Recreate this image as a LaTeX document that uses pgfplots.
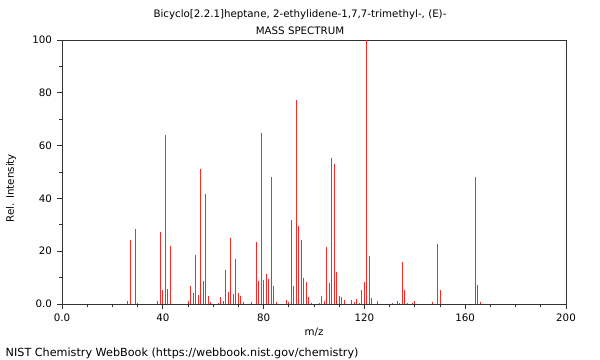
\documentclass[border=0pt]{standalone}
\usepackage{fontspec}
\setmainfont{DejaVu Sans}
\usepackage{pgfplots}
\pgfplotsset{compat=1.18}
\begin{document}
\begin{tikzpicture}
\path[use as bounding box] (0pt,0pt) rectangle (450pt,270pt);
\begin{axis}[
  at={(46.5pt,42pt)}, anchor=south west,
  scale only axis, width=378pt, height=198pt,
  xmin=0, xmax=200, ymin=0, ymax=100,
  xtick={0,40,80,120,160,200},
  xticklabels={0.0,40,80,120,160,200},
  ytick={0,20,40,60,80,100},
  yticklabels={0.0,20,40,60,80,100},
  minor x tick num=3, minor y tick num=1,
  tick align=outside, tick pos=left,
  major tick length=4pt, minor tick length=2.5pt,
  tick style={black!80, line width=0.6pt},
  axis line style={black!80, line width=0.7pt},
  tick label style={font=\fontsize{7.7}{9}\selectfont},
  /pgf/number format/assume math mode=true,
  clip=false,
]
\addplot[ycomb, red!85!white, line width=0.75pt, mark=none] coordinates {
(26,1.3) (27,24.2) (29,28.4) (30,0.5) (38,1.2) (39,27.4) (40,5.3) (41,64) (42,5.7) (43,22)
(50,1.2) (51,7) (52,4) (53,18.7) (54,3.5) (55,51) (56,8.7) (57,41.5) (58,3) (59,0.6)
(62,0.5) (63,2.6) (64,1) (65,12.7) (66,4.5) (67,24.9) (68,3.8) (69,17) (70,4) (71,3.2) (72,0.6)
(75,0.8) (77,23.5) (78,8.7) (79,64.6) (80,9.2) (81,11.2) (82,9.4) (83,48.2) (84,6.8) (85,0.6)
(89,1.5) (90,0.8) (91,31.8) (92,7) (93,77.3) (94,29.5) (95,24.1) (96,10) (97,8.2) (98,2.8) (99,0.5)
(102,0.4) (103,2.9) (104,1) (105,21.6) (106,8) (107,55.2) (108,53) (109,12) (110,3) (111,2.7) (112,1.7)
(115,1.6) (116,0.6) (117,1.9) (118,0.5) (119,5.3) (120,8.3) (121,100) (122,18.2) (123,2.4) (125,1)
(131,0.5) (133,1) (134,0.5) (135,16) (136,5.3) (137,0.5) (139,0.5) (140,1.1)
(147,0.6) (149,22.6) (150,5.4) (164,48) (165,7.2) (166,0.8)
};
\end{axis}
\node[font=\fontsize{7.7}{9}\selectfont] at (225pt,258.75pt) {Bicyclo[2.2.1]heptane, 2-ethylidene-1,7,7-trimethyl-, (E)-};
\node[font=\fontsize{7.7}{9}\selectfont] at (225pt,246.75pt) {MASS SPECTRUM};
\node[font=\fontsize{7.7}{9}\selectfont] at (235.5pt,21pt) {m/z};
\node[font=\fontsize{7.7}{9}\selectfont, rotate=90] at (8.25pt,129pt) {Rel. Intensity};
\node[font=\fontsize{8.4}{10}\selectfont, anchor=west] at (0.75pt,5.25pt) {NIST Chemistry WebBook (https://webbook.nist.gov/chemistry)};
\end{tikzpicture}
\end{document}
